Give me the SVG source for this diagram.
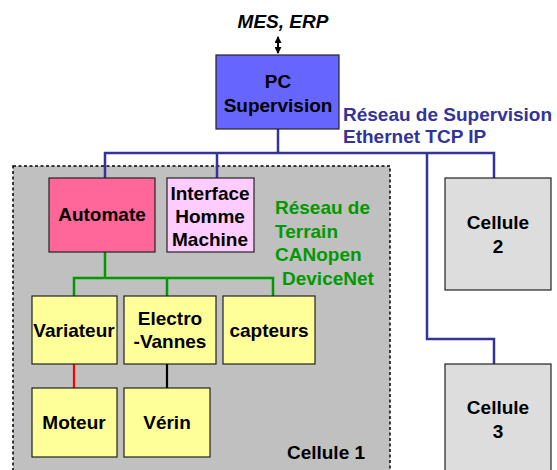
<svg xmlns="http://www.w3.org/2000/svg" width="557" height="470" viewBox="0 0 557 470">
<style>
text{font-family:"Liberation Sans",Arial,sans-serif;font-weight:bold;font-size:19px;fill:#000;text-anchor:middle}
.box{stroke:#222;stroke-width:1.2}
.blue{fill:none;stroke:#333399;stroke-width:2.5}
.green{fill:none;stroke:#009900;stroke-width:2.5}
.lb{fill:#333399;text-anchor:start}
.lg{fill:#009900;text-anchor:start}
</style>
<defs>
<marker id="ah" markerWidth="7" markerHeight="7" refX="6" refY="3.5" orient="auto-start-reverse" markerUnits="userSpaceOnUse">
<path d="M0,0 L7,3.5 L0,7 Z" fill="#000"/>
</marker>
</defs>
<rect width="557" height="470" fill="#fff"/>
<g id="cellule1">
<rect x="13" y="166" width="377" height="320" fill="#c0c0c0" stroke="#000" stroke-width="1.5" stroke-dasharray="3,2.5"/>
<text x="326" y="459">Cellule 1</text>
</g>
<g id="connectors">
<path class="blue" d="M278,129 V153 M105,178 V153 H494 V178 M217,153 V178 M427,153 V339 H494 V364"/>
<path class="green" d="M105,252 V278 M74,296 V278 H273 V296 M167,278 V296"/>
<path d="M74,364 V388" stroke="#ff0000" stroke-width="2.2"/>
<path d="M167,364 V388" stroke="#000" stroke-width="2.2"/>
<path d="M278,37 V53" stroke="#000" stroke-width="2" marker-start="url(#ah)" marker-end="url(#ah)"/>
</g>
<g id="mes"><text x="283" y="28" font-style="italic">MES, ERP</text></g>
<g id="pc">
<rect class="box" x="216" y="55" width="123" height="74" fill="#6666ff"/>
<text x="278" y="88">PC</text>
<text x="278" y="112">Supervision</text>
</g>
<g id="label-supervision">
<text class="lb" x="343" y="121">Réseau de Supervision</text>
<text class="lb" x="343" y="143">Ethernet TCP IP</text>
</g>
<g id="automate">
<rect class="box" x="49" y="178" width="106" height="74" fill="#ff6699"/>
<text x="102" y="221">Automate</text>
</g>
<g id="ihm">
<rect class="box" x="167" y="178" width="87" height="74" fill="#ffccff"/>
<text x="210" y="200">Interface</text>
<text x="210" y="223">Homme</text>
<text x="210" y="246">Machine</text>
</g>
<g id="label-terrain">
<text class="lg" x="275" y="214">Réseau de</text>
<text class="lg" x="275" y="238">Terrain</text>
<text class="lg" x="275" y="261">CANopen</text>
<text class="lg" x="282" y="285">DeviceNet</text>
</g>
<g id="variateur">
<rect class="box" x="32" y="296" width="85" height="68" fill="#ffff99"/>
<text x="74" y="337">Variateur</text>
</g>
<g id="electrovannes">
<rect class="box" x="124" y="296" width="92" height="68" fill="#ffff99"/>
<text x="170" y="325">Electro</text>
<text x="170" y="348">-Vannes</text>
</g>
<g id="capteurs">
<rect class="box" x="223" y="296" width="92" height="68" fill="#ffff99"/>
<text x="269" y="337">capteurs</text>
</g>
<g id="moteur">
<rect class="box" x="32" y="388" width="85" height="69" fill="#ffff99"/>
<text x="74" y="429">Moteur</text>
</g>
<g id="verin">
<rect class="box" x="124" y="388" width="86" height="69" fill="#ffff99"/>
<text x="167" y="429">Vérin</text>
</g>
<g id="cellule2">
<rect class="box" x="445" y="178" width="106" height="112" fill="#dddddd"/>
<text x="498" y="229">Cellule</text>
<text x="498" y="253">2</text>
</g>
<g id="cellule3">
<rect class="box" x="445" y="364" width="106" height="120" fill="#dddddd"/>
<text x="498" y="414">Cellule</text>
<text x="498" y="438">3</text>
</g>
</svg>
